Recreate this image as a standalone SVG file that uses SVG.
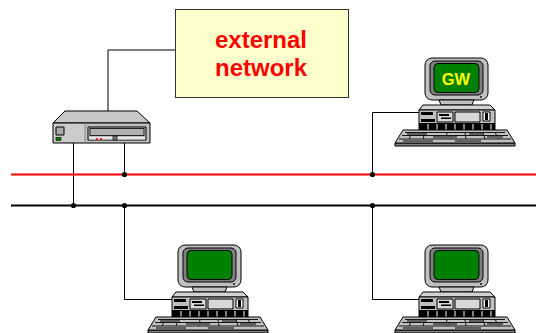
<svg xmlns="http://www.w3.org/2000/svg" xmlns:xlink="http://www.w3.org/1999/xlink" width="536" height="333" viewBox="0 0 536 333">
  <style>
    .wire { fill: none; stroke: #000; stroke-width: 1; }
    .bus-red { stroke: #ff0000; stroke-width: 2.2; }
    .bus-black { stroke: #000; stroke-width: 2.2; }
    .tap { fill: #000; }
    .ol { stroke: #000; stroke-width: 1; stroke-linejoin: round; }
    .label { font-family: "Liberation Sans", Arial, sans-serif; font-weight: bold; }
  </style>
  <defs>
    <!-- workstation: monitor, desktop case and keyboard; origin = monitor top-left -->
    <g id="pc">
      <!-- monitor -->
      <rect x="0" y="0" width="63" height="42" rx="7" fill="#c0c0c0" class="ol"/>
      <rect x="5" y="3" width="53" height="34" rx="5" fill="#808080" class="ol"/>
      <rect x="9" y="5.5" width="45" height="29" rx="4" fill="#008000" class="ol"/>
      <circle cx="56" cy="39" r="0.9" fill="#000"/>
      <path d="M14,42 L16,47 L47,47 L49,42 Z" fill="#c0c0c0" class="ol"/>
      <!-- case -->
      <path d="M-2,47 L65,47 L70,52 L-6,52 Z" fill="#d4d4d4" class="ol"/>
      <rect x="-6" y="52" width="76" height="20" fill="#c0c0c0" class="ol"/>
      <rect x="-4" y="54" width="12" height="3" fill="#000"/>
      <rect x="12" y="54" width="16" height="10" fill="#d8d8d8" class="ol"/>
      <rect x="14" y="56" width="10" height="2" fill="#000"/>
      <rect x="16" y="59.5" width="10" height="1.5" fill="#000"/>
      <rect x="30" y="54" width="25" height="10" fill="#d8d8d8" class="ol"/>
      <rect x="58" y="54" width="7" height="9" fill="#fff" class="ol"/>
      <rect x="60" y="55" width="3" height="7" fill="#000"/>
      <rect x="-4" y="61" width="14" height="3" fill="#000"/>
      <rect x="-6" y="65" width="76" height="7" fill="#000"/>
      <g stroke="#fff" stroke-width="1">
        <path d="M3,66 V72 M12,66 V72 M21,66 V72 M30,66 V72 M39,66 V72 M48,66 V72 M57,66 V72 M66,66 V72"/>
      </g>
      <!-- keyboard -->
      <path d="M-30,85 L90,85 L90,88 L-30,88 Z" fill="#808080" class="ol"/>
      <path d="M-22,72 L82,72 L90,85 L-30,85 Z" fill="#c0c0c0" class="ol"/>
      <g fill="none" stroke="#000" stroke-width="0.9">
        <path d="M-20,74.5 H80"/>
        <path d="M-23,77.5 H83"/>
        <path d="M-26,81 H86"/>
        <path d="M-13,74.5 L-16,81 M0,74.5 L-2,81 M22,74.5 L21,81 M40,74.5 L41,81 M58,74.5 L60,81 M70,74.5 L74,81"/>
      </g>
      <g fill="#606060">
        <rect x="-18" y="75" width="20" height="2"/>
        <rect x="8" y="78" width="24" height="2.5"/>
        <rect x="44" y="75" width="14" height="2"/>
        <rect x="62" y="78" width="16" height="2.5"/>
        <rect x="-22" y="82" width="30" height="2"/>
        <rect x="30" y="82" width="26" height="2"/>
      </g>
    </g>
  </defs>

  <rect width="536" height="333" fill="#fff"/>

  <!-- connectors -->
  <g id="connectors">
    <path class="wire" d="M175,50 H108 V111"/>
    <path class="wire" d="M73.5,143 V205.5"/>
    <path class="wire" d="M124.5,143 V174.5"/>
    <path class="wire" d="M419,112.5 H372.5 V174.5"/>
    <path class="wire" d="M124.5,205.5 V299.5 H172"/>
    <path class="wire" d="M372.5,205.5 V299.5 H419"/>
    <line class="bus-red" x1="11" y1="174.5" x2="536" y2="174.5"/>
    <line class="bus-black" x1="11" y1="205.5" x2="536" y2="205.5"/>
    <circle class="tap" cx="124.5" cy="174.5" r="2.6"/>
    <circle class="tap" cx="372.5" cy="174.5" r="2.6"/>
    <circle class="tap" cx="73.5" cy="205.5" r="2.6"/>
    <circle class="tap" cx="124.5" cy="205.5" r="2.6"/>
    <circle class="tap" cx="372.5" cy="205.5" r="2.6"/>
  </g>

  <!-- external network -->
  <g id="external-network">
    <rect x="175.5" y="9.5" width="173" height="88" fill="#ffffcc" stroke="#333" stroke-width="1"/>
    <text class="label" x="261" y="48" font-size="24" fill="#ff0000" text-anchor="middle">external</text>
    <text class="label" x="261" y="76" font-size="24" fill="#ff0000" text-anchor="middle">network</text>
  </g>

  <!-- router -->
  <g id="router">
    <path d="M65,111 L137,111 L150,123 L53,123 Z" fill="#c8c8c8" class="ol"/>
    <rect x="53" y="123" width="97" height="20" fill="#c0c0c0" class="ol"/>
    <rect x="54" y="124" width="31" height="18" fill="#cccccc"/>
    <line x1="85" y1="123" x2="85" y2="143" stroke="#888" stroke-width="1"/>
    <rect x="56" y="127" width="8" height="8" fill="#a8a8a8" class="ol"/>
    <rect x="56" y="137.5" width="5" height="3" fill="#008000" stroke="#000" stroke-width="0.6"/>
    <rect x="88" y="127" width="58" height="13" fill="#c0c0c0" class="ol"/>
    <rect x="90" y="128.5" width="54" height="7" fill="#b0b0b0" stroke="#000" stroke-width="0.8"/>
    <rect x="89" y="137" width="56" height="2.5" fill="#e8e8e8"/>
    <circle cx="97" cy="139" r="1.1" fill="#ff0000"/>
    <circle cx="101" cy="139" r="1.1" fill="#ff0000"/>
    <rect x="113" y="136" width="4" height="4" fill="#808080" stroke="#000" stroke-width="0.7"/>
  </g>

  <!-- gateway workstation -->
  <g id="gw">
    <use xlink:href="#pc" href="#pc" transform="translate(425,58)"/>
    <text class="label" x="456" y="85" font-size="16.5" fill="#ffff00" text-anchor="middle">GW</text>
  </g>

  <!-- workstations on the internal segment -->
  <g id="host-1">
    <use xlink:href="#pc" href="#pc" transform="translate(178,245)"/>
  </g>
  <g id="host-2">
    <use xlink:href="#pc" href="#pc" transform="translate(425,245)"/>
  </g>
</svg>
